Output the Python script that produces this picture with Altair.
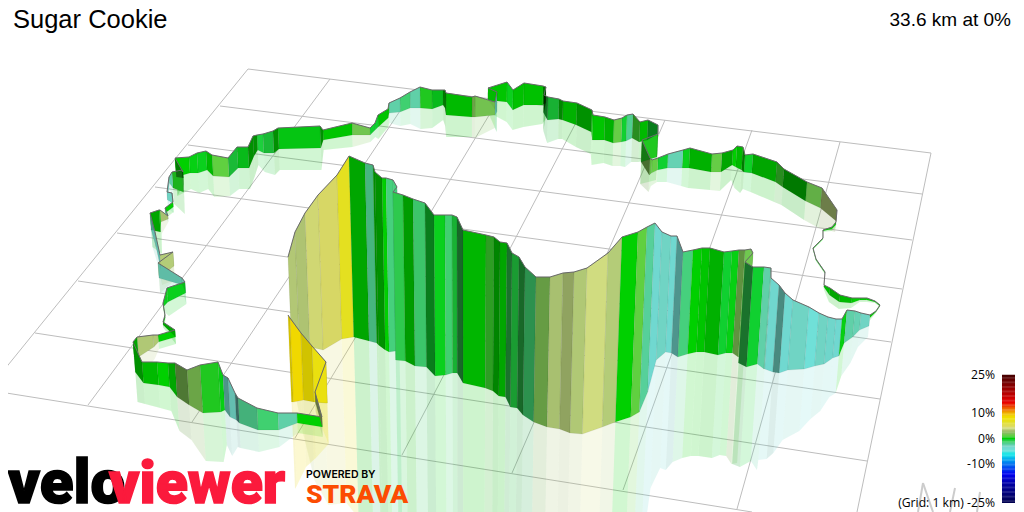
import altair as alt
import pandas as pd

# Each run: (x at top, top y, bottom y, gradient %, surface shade).
back_wall = [
 (837,210,221,3,.35),(822,188,208,1.5,.12),(807,182,201,0,.42),(784,169,187,.7,.3),(777,162,182,0,.2),
 (753,154,173,-.4,0),(745,155,172,0,.4),(743,147,170,0,.1),(737,146,167,0,0),(733,150,165,0,.2),
 (722,153,172,1.2,0),(712,154,172,0,.15),(690,148,168,-.3,0),(683,150,168,-2.7,0),(668,154,168,-.5,0),
 (658,158,170,1.2,0),(652,160,173,1.2,.05),(650,158,175,2,.4),(642,140,162,.5,0),(658,134,157,0,0),
 (658,125,134,-.5,.4),(648,120,140,0,.1),(640,122,142,.7,.3),(633,114,138,-2,0),(627,115,141,-.5,0),
 (622,118,142,1.2,0),(614,120,143,0,.15),(605,117,140,0,.05),(593,115,140,0,0),(592,110,132,0,.3),
 (577,103,125,0,.15),(563,101,120,0,.35),(559,99,119,-.7,.15),(548,97,120,-.7,.45),(544,95,113,0,.5),
 (546,87,103,0,.4),(543,86,105,0,.07),(524,83,105,0,.07),(513,90,110,-.3,0),(507,82,102,0,.05),
 (488,88,100,0,.05),(497,92,112,-3,.1),(495,102,115,1.7,0),(475,96,117,2,.1),(472,97,117,0,.1),
 (446,93,115,0,.4),(445,90,108,0,.4),(443,90,105,-.3,.1),(432,90,109,.5,0),(420,87,108,-2.5,0),
 (410,92,108,-1.5,0),(400,98,112,-2.5,0),(389,103,113,0,0),(388,109,118,0,.05),(378,115,127,-.5,0),
 (375,123,130,-.5,0),(370,128,135,1.6,0),(352,123,135,0,.05),(323,130,140,0,.3),(320,126,148,-.2,.05),
 (278,128,149,0,.3),(273,131,153,-.7,.1),(263,134,153,-.7,0),(257,135,150,0,.3),(253,136,156,0,.3),
 (248,147,168,-.3,.1),(237,147,168,-.7,.1),(228,158,177,1,0),(212,155,176,0,.1),(206,151,170,-.3,0),
 (197,153,173,-.2,0),(189,157,173,0,0),(175,158,177,0,.4),(183,172,178,0,.3),(182,170,192,.5,.1),
 (172,172,188,-2.5,0),(169,177,183,-3,0),(167,192,200,-3,0),(172,193,203,-.3,0),(173,202,207,0,0),
 (165,208,213,-2.5,0),(168,216,219,3,0),(160,210,222,0,0),(159,210,232,0,.2),(150,213,230,-3,.1),
 (155,232,247,-3,.1),(160,255,270,3.3,0),(173,252,266,3.3,0),(158,263,278,-2.8,.1),(182,278,285,-2.8,.1),
 (185,282,293,-.3,0),(167,288,302,-.3,0),(163,303,307,0,0),(165,315,318,0,0),(163,322,325,0,.2),
 (175,330,337,0,0),(158,335,342,3.2,0),(153,335,347,3.2,0),(137,337,357,0,.2),(133,342,357,0,.2),
]
thin_link = [
 (870,315,318,0,0),(876,311,312,0,0),(880,305,306,0,0),(875,301,302,0,0),(867,298,300,0,0),(860,298,300,0,0),
 (852,298,303,0,.1),(840,295,302,0,.2),(830,288,295,0,.1),(824,285,287,0,0),(825,272,273,0,0),(816,259,260,0,0),
 (813,248,249,0,0),(818,243,244,0,0),(823,238,239,0,0),(823,230,231,0,0),(832,227,229,0,0),(836,222,225,0,0),
 (837,210,221,0,0),
]
corner_strip = [
 (133,342,372,0,.3),(142,362,383,0,.1),(157,362,385,0,0),(168,363,387,0,.2),(175,363,397,2,.35),
 (187,370,405,2,.1),(200,365,413,.5,0),(218,362,412,-.2,0),(223,375,410,-3,.3),(228,378,417,-3,.1),
 (235,393,420,-3,.5),(238,398,423,-2,.15),(257,408,430,-1.5,0),(278,413,430,-2.5,0),(297,413,423,0,0),
 (322,417,427,0,0),
]
main_wall = [
 (288,257,320,3.4,.03),(295,232,332,3.4,.05),(305,213,347,4.2,.02),(318,195,350,4.5,.02),(337,175,339,6.5,0),
 (349,156,337,0,.2),(365,163,341,-2,.12),(373,165,343,0,.3),(375,172,345,0,.3),(382,178,350,0,0),
 (386,178,352,-1.7,0),(393,180,351,-1.7,0),(397,187,360,-1.7,0),(393,192,360,-1,.03),(403,195,361,0,.25),
 (413,199,366,-1.5,.05),(425,203,367,-.5,.4),(434,215,376,-.3,0),(445,215,375,-1.5,0),(452,215,373,-.7,.15),
 (457,217,373,-1,.5),(463,230,383,0,.12),(486,235,388,.7,.22),(494,237,391,0,.36),(500,242,396,0,.2),
 (507,243,397,-1,.45),(512,253,407,-.8,.25),(519,257,408,-1,.5),(525,267,415,-1.5,.3),(536,277,422,2,.15),
 (550,277,427,3,0),(563,273,429,3.3,.2),(574,272,433,3.2,0),(587,268,434,4,0),(608,253,427,3.3,0),
 (622,237,422,0,0),(638,232,417,1,0),(647,227,412,-2.2,0),(655,223,392,-3.5,0),(662,232,360,-3,0),
 (671,236,352,-3.5,0),(677,236,353,-3.3,.3),(683,252,357,-1.7,0),(693,250,354,0,0),(702,248,352,0,.05),
 (710,248,352,0,.15),(724,252,355,-.5,0),(732,251,353,-.2,0),(739,250,353,2,.2),(745,250,357,1.5,0),
 (751,249,356,1.5,0),(753,253,358,1.5,0),(745,262,363,-1,.45),(753,267,367,-.5,0),(764,267,364,-2.5,0),
 (771,268,369,-2.5,0),(771,278,369,-3.4,0),(779,285,372,-3,.35),(785,293,373,-3.5,0),(793,300,370,-3,0),
 (809,307,369,-4.5,0),(819,313,366,-3,0),(828,317,364,-3.3,0),(836,319,358,-3.5,0),(842,319,356,-.2,0),
 (847,310,343,-2.5,0),(855,311,337,-2.7,0),(861,313,330,-3,0),(870,315,326,0,0),
]
yellow_front = [
 (288,315,402,8.5,.1),(290,318,402,8.7,0),(301,333,400,8,.13),(312,346,402,7.3,0),(326,362,403,7.3,0),
 (315,392,402,3,.4),(322,417,427,3,.4),
]
no_mirror = [(397,187),(751,249),(753,253)]
grid_lines = [
 (248,69,931,153),(220,106,922,194),(188,145,912,240),(155,187,902,289),(117,233,891,342),(78,281,880,399),
 (35,333,867,461),(0,392,752,512),(248,69,0,375),(330,79,88,405),(414,90,192,422),(497,102,295,438),
 (581,113,402,455),(665,120,512,473),(752,130,623,490),(840,142,737,509),(931,153,857,512),
]
north_lines = [(918,512,923,483),(923,483,933,512),(955,488,950,512),(980,492,977,512)]
grade_stops = [-25,-18,-14,-9,-6.3,-4.5,-3.5,-3,-2.5,-2,-1.5,-1,-.5,0,.5,1,1.5,2,3,3.3,4,4.5,6.5,8,8.7,9.5,11,14,18,25]
grade_colors = ["#000050","#0000a0","#0000f0","#0090f0","#10e8e8","#70e0d8","#70d8d0","#70d4c4","#60d0a8","#50d090",
                "#40d070","#30d050","#10d030","#00d000","#20c820","#60d040","#70c850","#78b850","#a8c070","#b4cc78",
                "#d0dc80","#dcdc68","#e4e020","#f0e000","#f0d800","#f0c000","#f08000","#e80000","#b00000","#400000"]
legend_ticks = [(25,"25%",379),(10,"10%",417),(0,"0%",443),(-10,"-10%",468),(-25,"(Grid: 1 km) -25%",507)]

X = alt.X("x:Q", scale=alt.Scale(domain=[8,1016], range=[0,1008]), axis=None)
Y = alt.Y("y:Q", scale=alt.Scale(domain=[8,512], range=[0,504]), axis=None)
CS = alt.Scale(domain=grade_stops, range=grade_colors, interpolate="rgb")
C = alt.Color("g:Q", scale=CS, legend=None)

def lean(x, h):
    return (465 - x) * h / 4400

def polys(run):
    wall, refl, top = [], [], []
    for i, (x, t, b, g, s) in enumerate(run):
        top.append({"x": x, "y": t, "v": i})
        if i == len(run) - 1:
            break
        x2, t2, b2 = run[i + 1][:3]
        h, h2 = b - t, b2 - t2
        xb, xb2 = x + lean(x, h), x2 + lean(x2, h2)
        for v, (px, py) in enumerate([(x, t), (x2, t2), (xb2, b2), (xb, b)]):
            wall.append({"x": px, "y": py, "v": v, "seg": i, "g": g, "s": s})
        if (x, t) in no_mirror:
            continue
        for v, (px, py) in enumerate([(xb, b), (xb2, b2), (xb2 + lean(x2, h2), b2 + h2), (xb + lean(x, h), b + h)]):
            refl.append({"x": px, "y": py, "v": v, "seg": i, "g": g, "s": s * 0.1})
    return pd.DataFrame(wall), pd.DataFrame(refl), pd.DataFrame(top)

def polygon_chart(df, **kw):
    return alt.Chart(df).mark_line(filled=True, interpolate="linear-closed", **kw)

runs = [back_wall, thin_link, corner_strip, main_wall, yellow_front]
layers = []

rows = []
for x1, y1, x2, y2 in grid_lines:
    rows.append({"x": x1, "y": y1, "x2": x2, "y2": y2})
layers.append(alt.Chart(pd.DataFrame(rows)).mark_rule(color="#bdbdbd", strokeWidth=1).encode(
    x=X, y=Y, x2="x2:Q", y2="y2:Q"))

for run in runs:
    _, refl, _ = polys(run)
    layers.append(polygon_chart(refl, opacity=0.18, strokeWidth=0).encode(
        x=X, y=Y, color=C, order="v:Q", detail="seg:N"))
    layers.append(polygon_chart(refl[refl.s > 0], strokeWidth=0, fill="#000000").encode(
        x=X, y=Y, opacity=alt.Opacity("s:Q", scale=None), order="v:Q", detail="seg:N"))

for run in runs:
    wall, _, top = polys(run)
    layers.append(polygon_chart(wall, stroke="#000000", strokeOpacity=0.12, strokeWidth=0.5).encode(
        x=X, y=Y, fill=alt.Fill("g:Q", scale=CS, legend=None), order="v:Q", detail="seg:N"))
    layers.append(polygon_chart(wall[wall.s > 0], strokeWidth=0, fill="#000000").encode(
        x=X, y=Y, opacity=alt.Opacity("s:Q", scale=None), order="v:Q", detail="seg:N"))
    layers.append(alt.Chart(top).mark_line(color="#6a6a6a", strokeWidth=1).encode(
        x=X, y=Y, order="v:Q"))

rows = []
for x1, y1, x2, y2 in north_lines:
    rows.append({"x": x1, "y": y1, "x2": x2, "y2": y2})
layers.append(alt.Chart(pd.DataFrame(rows)).mark_rule(color="#cccccc", strokeWidth=2).encode(
    x=X, y=Y, x2="x2:Q", y2="y2:Q"))

# colour bar
bar = pd.DataFrame({"g": [v / 2 for v in range(-50, 50)]})
bar["g2"] = bar["g"] + 0.6
layers.append(alt.Chart(bar).transform_calculate(
    y="439-2.56*datum.g", y2="439-2.56*datum.g2", x="1002", x2="1015"
).mark_rect().encode(x=X, x2="x2:Q", y=Y, y2="y2:Q", color=C))

def text(s, x, y, size, color="#000000", font="Liberation Sans", weight="normal", align="left", **kw):
    return alt.Chart(pd.DataFrame({"x": [x], "y": [y], "t": [s]})).mark_text(
        align=align, baseline="alphabetic", fontSize=size, font=font, fontWeight=weight, color=color, **kw
    ).encode(x=X, y=Y, text="t:N")

layers.append(text("Sugar Cookie", 13, 28, 25.5))
layers.append(text("33.6 km at 0%", 1011, 26, 19, align="right"))
for _, label, base in legend_ticks:
    layers.append(text(label, 995, base, 12.2, font="Open Sans", align="right"))
layers.append(text("velo", 8, 503, 62, font="Roboto", weight=900, stroke="#000000", strokeWidth=1.5))
layers.append(text("viewer", 109, 503, 59, color="#fb1a3c", font="Roboto", weight=900, stroke="#fb1a3c", strokeWidth=1.5))
layers.append(text("POWERED BY", 306, 478, 10.5, font="Inter", weight=600))
layers.append(text("STRAVA", 306, 503, 26.5, color="#fc4c02", font="Roboto", weight=900))

chart = alt.layer(*layers).properties(
    width=1008, height=504, padding=0,
    autosize=alt.AutoSizeParams(type="none"),
    background="#ffffff",
).configure_view(stroke=None)
chart.save("out.html", embed_options={"renderer": "svg", "actions": False})
